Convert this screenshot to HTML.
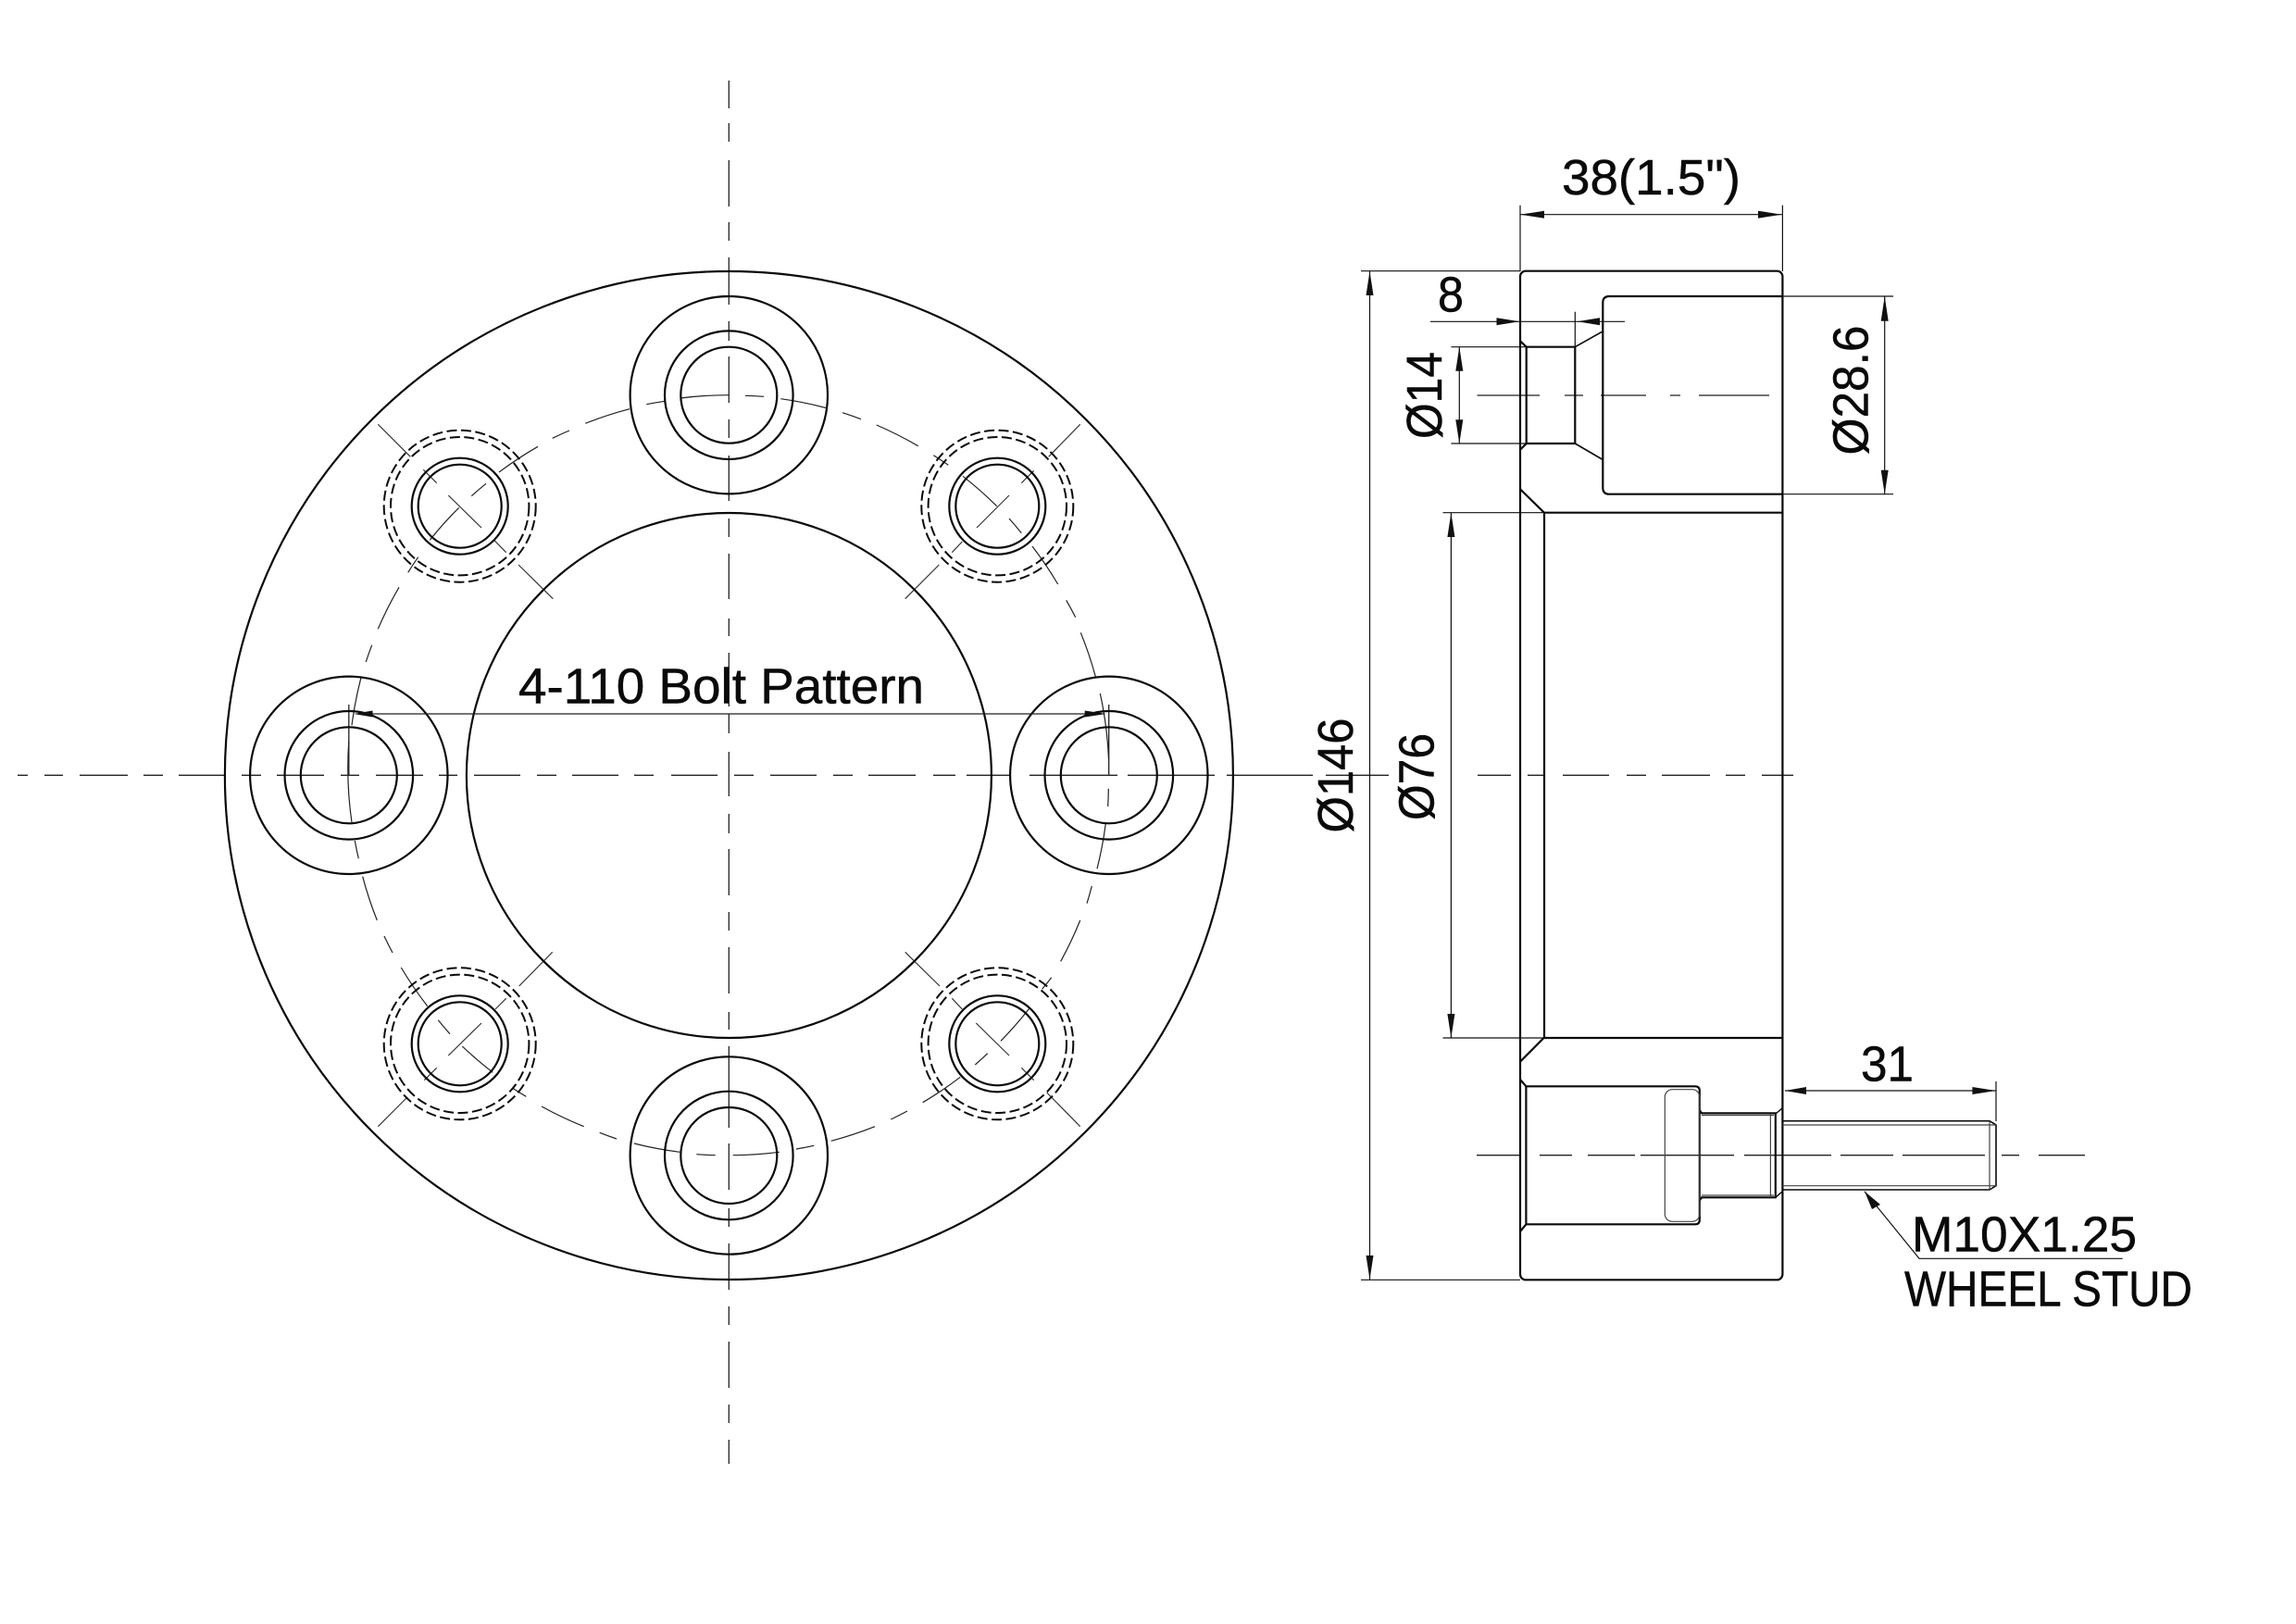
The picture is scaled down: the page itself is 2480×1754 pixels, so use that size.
<!DOCTYPE html>
<html>
<head>
<meta charset="utf-8">
<style>
html,body{margin:0;padding:0;background:#fff;}
svg{display:block;}
text{font-family:"Liberation Sans",sans-serif;font-size:54px;fill:#0a0a0a;stroke:#0a0a0a;stroke-width:0.5px;}
</style>
</head>
<body>
<svg xmlns="http://www.w3.org/2000/svg" width="2480" height="1754" viewBox="0 0 2480 1754">
<rect width="2480" height="1754" fill="#fff"/>

<!-- centre lines -->
<g fill="none" stroke="#222" stroke-width="1.3">
<path d="M19,837.3H30M48,837.3H68M86,837.3H138M155,837.3H176M193,837.3H242M261,837.3H282M299,837.3H350M368,837.3H388M406,837.3H457M474,837.3H494M512,837.3H562M580,837.3H601M618,837.3H668M685,837.3H706M725,837.3H775M793,837.3H814M832,837.3H882M900,837.3H921M938,837.3H989M1008,837.3H1032M1044,837.3H1092M1112,837.3H1207M1218,837.3H1312M1325,837.3H1418M1432,837.3H1500M1596,837.3H1632M1650,837.3H1668M1688,837.3H1738M1757,837.3H1778M1795,837.3H1847M1864,837.3H1885M1903,837.3H1937"/>
<path d="M787.3,87V117M787.3,133V153M787.3,173V223M787.3,240V260M787.3,278V329M787.3,347V368M787.3,385V435M787.3,453V473M787.3,492V541M787.3,560V580M787.3,598V647M787.3,668V687M787.3,705V763M787.3,771V792M787.3,812V860M787.3,879V900M787.3,917V967M787.3,985V1005M787.3,1023V1073M787.3,1093V1112M787.3,1130V1218M787.3,1235V1285M787.3,1305V1325M787.3,1343V1393M787.3,1411V1431M787.3,1449V1499M787.3,1517V1537M787.3,1555V1581"/>
<path d="M1595.5,427H1663M1690,427H1710M1729,427H1778M1804,427H1815M1835,427H1911"/>
<path d="M1595,1247.7H1643M1663,1247.7H1698M1715,1247.7H1766M1772,1247.7H1873M1884,1247.7H1978M1988,1247.7H2045M2055,1247.7H2144M2162,1247.7H2181M2202,1247.7H2252"/>
<path d="M376.8,761V837M1197.7,761V837"/>
</g>

<!-- bolt circle arcs -->
<g fill="none" stroke="#222" stroke-width="1.2">
<path d="M805,427.3A410.5,410.5 0 0 1 825,428.3
M843.3,430.7A410.5,410.5 0 0 1 892.7,440.7
M910,445.7A410.5,410.5 0 0 1 930,452.7
M946.7,459A410.5,410.5 0 0 1 991.7,481.7
M1008.3,491.7A410.5,410.5 0 0 1 1024.3,502.3
M1040,514.3A410.5,410.5 0 0 1 1076.7,546.7
M1090,560A410.5,410.5 0 0 1 1103.3,575.7
M1115,590A410.5,410.5 0 0 1 1142.7,631
M1151.7,648.3A410.5,410.5 0 0 1 1161.7,666.7
M1167.3,683.3A410.5,410.5 0 0 1 1183.3,730.7
M1188.3,749A410.5,410.5 0 0 1 1197.5,820
M1197.3,851.7A410.5,410.5 0 0 1 1196.7,871
M1194.3,889.3A410.5,410.5 0 0 1 1185,938.3
M1179.3,957A410.5,410.5 0 0 1 1174,975.7
M1166.7,994A410.5,410.5 0 0 1 1145.7,1038.3
M1135.7,1055.7A410.5,410.5 0 0 1 1125.7,1068.3
M1111.7,1089.3A410.5,410.5 0 0 1 1081,1124.3
M1066.7,1137.7A410.5,410.5 0 0 1 1053.3,1150
M1037.3,1163.3A410.5,410.5 0 0 1 996.7,1190.7
M980,1200A410.5,410.5 0 0 1 962.3,1209
M945,1216.7A410.5,410.5 0 0 1 897.7,1232.3
M879.3,1237.3A410.5,410.5 0 0 1 860,1241
M841.7,1244.3A410.5,410.5 0 0 1 791.7,1247.7
M772.7,1247.7A410.5,410.5 0 0 1 752.3,1246.7
M734.3,1244.3A410.5,410.5 0 0 1 685,1235
M666,1230A410.5,410.5 0 0 1 647.7,1223.3
M630.7,1216.7A410.5,410.5 0 0 1 585,1195
M568.3,1184.3A410.5,410.5 0 0 1 553.3,1175
M532.3,1158.3A410.5,410.5 0 0 1 499.3,1130
M486,1116.7A410.5,410.5 0 0 1 473.3,1101.7
M461.7,1086.7A410.5,410.5 0 0 1 433.3,1045
M424,1029A410.5,410.5 0 0 1 415,1011
M407.3,994A410.5,410.5 0 0 1 391.7,946.7
M387.3,927.3A410.5,410.5 0 0 1 383.3,908
M380,888.3A410.5,410.5 0 0 1 376.8,800
M380,783.3A410.5,410.5 0 0 1 390,731.7
M395.2,715A410.5,410.5 0 0 1 401.7,696.7
M408.3,679.3A410.5,410.5 0 0 1 431,634.3
M440.7,618.3A410.5,410.5 0 0 1 451.7,601.7
M464.3,583.3A410.5,410.5 0 0 1 495.7,548.3
M509.3,535.7A410.5,410.5 0 0 1 525,522.3
M539,510A410.5,410.5 0 0 1 581,482.3
M596.7,473.3A410.5,410.5 0 0 1 615,465
M632.3,457.3A410.5,410.5 0 0 1 680,441.7
M698.3,436.7A410.5,410.5 0 0 1 718.3,433.3
M735,430A410.5,410.5 0 0 1 787.3,426.7"/>
</g>

<!-- radial lines at stud positions -->
<g fill="none" stroke="#333" stroke-width="1.2">
<path d="M408.3,458.3L443.3,493.3M457.3,507.3L471.7,521.7M484.3,535L520,570M534.3,584L546.7,596.7M560,610L597.3,646.7"/>
<path d="M1166.7,458.3L1132.7,493.3M1116.7,508.3L1103.3,521.7M1090,535L1055,570M1039.3,585L1028.3,596.7M1014.3,610L977.7,646.7"/>
<path d="M408.3,1216.7L440,1185M458.3,1166.7L471.7,1153.3M484.3,1140L520,1105M535,1090L546.7,1078.3M560.7,1065L596.7,1028.3"/>
<path d="M977.7,1028.3L1015,1065M1028.3,1078.3L1039.3,1090M1054.3,1105L1090,1140M1103.3,1153.3L1116.7,1166.7M1130.7,1180L1166.7,1216.7"/>
</g>

<!-- front view circles -->
<g fill="none" stroke="#0a0a0a" stroke-width="2.2">
<circle cx="787.4" cy="837.5" r="544.5"/>
<circle cx="787.4" cy="837.5" r="283.5"/>
<circle cx="787.3" cy="426.7" r="106.7"/><circle cx="787.3" cy="426.7" r="69.3"/><circle cx="787.3" cy="426.7" r="52"/>
<circle cx="787.3" cy="1248" r="106.7"/><circle cx="787.3" cy="1248" r="69.3"/><circle cx="787.3" cy="1248" r="52"/>
<circle cx="376.8" cy="837.3" r="106.7"/><circle cx="376.8" cy="837.3" r="69.3"/><circle cx="376.8" cy="837.3" r="52"/>
<circle cx="1197.8" cy="837.3" r="106.7"/><circle cx="1197.8" cy="837.3" r="69.3"/><circle cx="1197.8" cy="837.3" r="52"/>
<circle cx="496.7" cy="546.7" r="52"/><circle cx="496.7" cy="546.7" r="45"/>
<circle cx="1077.3" cy="546.7" r="52"/><circle cx="1077.3" cy="546.7" r="45"/>
<circle cx="496.7" cy="1127.3" r="52"/><circle cx="496.7" cy="1127.3" r="45"/>
<circle cx="1077.3" cy="1127.3" r="52"/><circle cx="1077.3" cy="1127.3" r="45"/>
</g>
<g fill="none" stroke="#0a0a0a" stroke-width="2" stroke-dasharray="11 4.5">
<circle cx="496.7" cy="546.7" r="82"/><circle cx="496.7" cy="546.7" r="74.7"/>
<circle cx="1077.3" cy="546.7" r="82"/><circle cx="1077.3" cy="546.7" r="74.7"/>
<circle cx="496.7" cy="1127.3" r="82"/><circle cx="496.7" cy="1127.3" r="74.7"/>
<circle cx="1077.3" cy="1127.3" r="82"/><circle cx="1077.3" cy="1127.3" r="74.7"/>
</g>

<!-- bolt pattern dimension -->
<path d="M395,771H1180" stroke="#222" stroke-width="1.2" fill="none"/>
<polygon points="382,771 402.5,767.5 402.5,774.5" fill="#111"/>
<polygon points="1195,771 1171.7,767.5 1171.7,774.5" fill="#111"/>
<text x="560" y="759.3" textLength="438" lengthAdjust="spacingAndGlyphs">4-110 Bolt Pattern</text>

<!-- side view outline -->
<g fill="none" stroke="#0a0a0a" stroke-width="2.2">
<rect x="1642" y="292.7" width="283.4" height="1089.6" rx="6" ry="6"/>
<path d="M1642,528.3L1667.9,553.7H1925.4"/>
<path d="M1668,553.7V1121"/>
<path d="M1642,1146.7L1667.5,1121H1925.4"/>
<path d="M1925.4,320H1738.3Q1731.3,320 1731.3,327V526.7Q1731.3,533.7 1738.3,533.7H1925.4"/>
<path d="M1642,368.3L1648.7,374.7V479L1642,485.7"/>
<path d="M1648.7,374.7H1701.3V479H1648.7"/>
<path d="M1730.4,358.3L1701.3,374.7M1730.4,496L1701.3,479" stroke-width="1.6"/>
<path d="M1642,1166L1648.4,1173.3V1322.3L1642,1330"/>
<path d="M1648.4,1173.3H1831Q1835.8,1173.3 1835.8,1178V1317.5Q1835.8,1322.3 1831,1322.3H1648.4"/>
<path d="M1835.8,1199L1838,1202.3H1917.8V1293.3H1838L1835.8,1296.6"/>
<path d="M1917.8,1203L1925.4,1196.7M1917.8,1293.3L1925.4,1286.7" stroke-width="1.4"/>
<path d="M1925.4,1210.7H2149L2156,1215V1280.7L2149,1285H1925.4" stroke-width="1.6"/>
</g>
<g fill="none" stroke="#444" stroke-width="1.2">
<rect x="1798.3" y="1176.7" width="37.5" height="142.6" rx="8" ry="8"/>
<path d="M1838,1204.5H1916M1838,1291H1916"/>
<path d="M1912.4,1203V1293"/>
<path d="M1925.4,1215H2156M1925.4,1280.7H2156"/>
<path d="M2149,1210.7V1285"/>
</g>

<!-- dimension lines -->
<g fill="none" stroke="#111" stroke-width="1.2">
<path d="M1642,221.7V293M1925.4,221.7V293M1642,231.7H1925.4"/>
<path d="M1470,292.7H1642M1470,1382.3H1642M1479.5,293V1382"/>
<path d="M1558.5,553.7H1668M1558.5,1121H1668M1567.4,553.7V1121"/>
<path d="M1925.4,320H2045M1925.4,533.7H2045M2035.7,320V533.7"/>
<path d="M1567.4,374.7H1648.7M1567.4,479H1648.7M1576.3,374.7V479"/>
<path d="M1545,347.3H1755M1701.3,336.7V374.7"/>
<path d="M1928,1178H2156M2156,1168V1211"/>
<path d="M2014,1286.7L2073,1359.3H2292.7"/>
</g>
<g fill="#111">
<polygon points="1642,231.7 1668,227.7 1668,235.7"/>
<polygon points="1924.5,231.7 1899,227.7 1899,235.7"/>
<polygon points="1479.5,293 1475.5,319 1483.5,319"/>
<polygon points="1479.5,1382 1475.5,1356 1483.5,1356"/>
<polygon points="1567.4,553.7 1563.4,580 1571.4,580"/>
<polygon points="1567.4,1121 1563.4,1095 1571.4,1095"/>
<polygon points="2035.7,320 2031.7,346.7 2039.7,346.7"/>
<polygon points="2035.7,533.7 2031.7,507.7 2039.7,507.7"/>
<polygon points="1576.3,374.7 1572.3,400.7 1580.3,400.7"/>
<polygon points="1576.3,479 1572.3,453.3 1580.3,453.3"/>
<polygon points="1641.5,347.3 1616.5,343.3 1616.5,351.3"/>
<polygon points="1703.6,347.3 1728,343.3 1728,351.3"/>
<polygon points="1928,1178 1951,1174 1951,1182"/>
<polygon points="2156,1178 2130.4,1174 2130.4,1182"/>
<polygon points="2014,1286.7 2022,1306 2031,1301"/>
</g>

<!-- labels -->
<text x="1687" y="210" textLength="193" lengthAdjust="spacingAndGlyphs">38(1.5")</text>
<text x="1553" y="336.7" textLength="28" lengthAdjust="spacingAndGlyphs">8</text>
<text transform="translate(1461,899.5) rotate(-90)" textLength="124" lengthAdjust="spacingAndGlyphs">Ø146</text>
<text transform="translate(1548.3,886) rotate(-90)" textLength="94" lengthAdjust="spacingAndGlyphs">Ø76</text>
<text transform="translate(1557,474) rotate(-90)" textLength="94" lengthAdjust="spacingAndGlyphs">Ø14</text>
<text transform="translate(2017.4,491.5) rotate(-90)" textLength="140" lengthAdjust="spacingAndGlyphs">Ø28.6</text>
<text x="2010" y="1167.3" textLength="57" lengthAdjust="spacingAndGlyphs">31</text>
<text x="2065" y="1351.7" textLength="243" lengthAdjust="spacingAndGlyphs">M10X1.25</text>
<text x="2057" y="1410.7" textLength="311" lengthAdjust="spacingAndGlyphs">WHEEL STUD</text>
</svg>
</body>
</html>
